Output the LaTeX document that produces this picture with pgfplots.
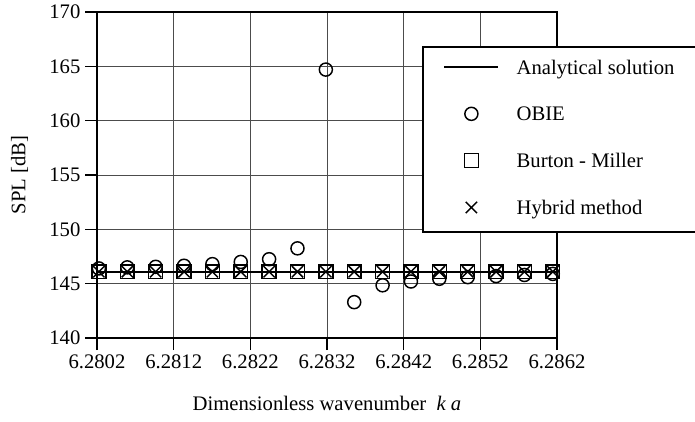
\documentclass[border=0pt]{standalone}
\usepackage{fontspec}
\setmainfont{Liberation Serif}
\usepackage{pgfplots}
\pgfplotsset{compat=1.18}
\begin{document}
\begin{tikzpicture}[font=\fontsize{15.5}{18}\selectfont]
\begin{axis}[
 scale only axis, width=345pt, height=244.5pt,
 xmin=6.2802, xmax=6.2862, ymin=140, ymax=170,
 xtick={6.2802,6.2812,6.2822,6.2832,6.2842,6.2852,6.2862},
 xticklabels={6.2802,6.2812,6.2822,6.2832,6.2842,6.2852,6.2862},
 ytick={140,145,150,155,160,165,170},
 xtick pos=bottom, ytick pos=left,
 tick align=outside, major tick length=9pt,
 tick style={black, line width=0.9pt},
 grid=major, major grid style={black!70, line width=0.75pt},
 axis line style={line width=1.6pt},
 /pgf/number format/assume math mode=true,
 xlabel={Dimensionless wavenumber\ \ \textit{k a}},
 ylabel={SPL [dB]},
 xlabel style={yshift=-14pt},
 ylabel style={yshift=9pt},
 legend cell align=left,
 legend style={at={(axis description cs:0.7075,0.8966)}, anchor=north west,
   draw=black, line width=1.5pt, fill=white,
   inner xsep=15pt, inner ysep=9.5pt, row sep=20.6pt, column sep=13pt,
   nodes={inner sep=0pt, text height=11pt, text depth=3.5pt}},
 legend image code/.code={\draw[#1,mark repeat=2,mark phase=2] plot coordinates {(0pt,1.5pt)(20.25pt,1.5pt)(40.5pt,1.5pt)};},
]
\addplot[black, line width=1.4pt, no marks] coordinates {(6.2802,146.1) (6.2862,146.1)};
\addlegendentry{\makebox[150pt][l]{Analytical solution}}
\addplot[only marks, mark=o, mark size=4.9pt, mark options={line width=1.1pt, black}] coordinates {
(6.280225,146.4) (6.280595,146.5) (6.280965,146.55) (6.281335,146.65) (6.281705,146.8)
(6.282075,147.0) (6.282445,147.25) (6.282815,148.25) (6.283185,164.7) (6.283555,143.3)
(6.283925,144.85) (6.284295,145.2) (6.284665,145.45) (6.285035,145.6) (6.285405,145.7)
(6.285775,145.8) (6.286145,145.9)};
\addlegendentry{OBIE}
\addplot[only marks, mark=square, mark size=5.2pt, mark options={line width=1.1pt, black}] coordinates {
(6.280225,146.1) (6.280595,146.1) (6.280965,146.1) (6.281335,146.1) (6.281705,146.1)
(6.282075,146.1) (6.282445,146.1) (6.282815,146.1) (6.283185,146.1) (6.283555,146.1)
(6.283925,146.1) (6.284295,146.1) (6.284665,146.1) (6.285035,146.1) (6.285405,146.1)
(6.285775,146.1) (6.286145,146.1)};
\addlegendentry{Burton - Miller}
\addplot[only marks, mark=x, mark size=6pt, mark options={line width=1.1pt, black}] coordinates {
(6.280225,146.1) (6.280595,146.1) (6.280965,146.1) (6.281335,146.1) (6.281705,146.1)
(6.282075,146.1) (6.282445,146.1) (6.282815,146.1) (6.283185,146.1) (6.283555,146.1)
(6.283925,146.1) (6.284295,146.1) (6.284665,146.1) (6.285035,146.1) (6.285405,146.1)
(6.285775,146.1) (6.286145,146.1)};
\addlegendentry{Hybrid method}
\end{axis}
\pgfresetboundingbox
\path ([shift={(-72.75pt,-62.25pt)}]current axis.south west) rectangle ([shift={(103.5pt,9pt)}]current axis.north east);
\end{tikzpicture}
\end{document}
